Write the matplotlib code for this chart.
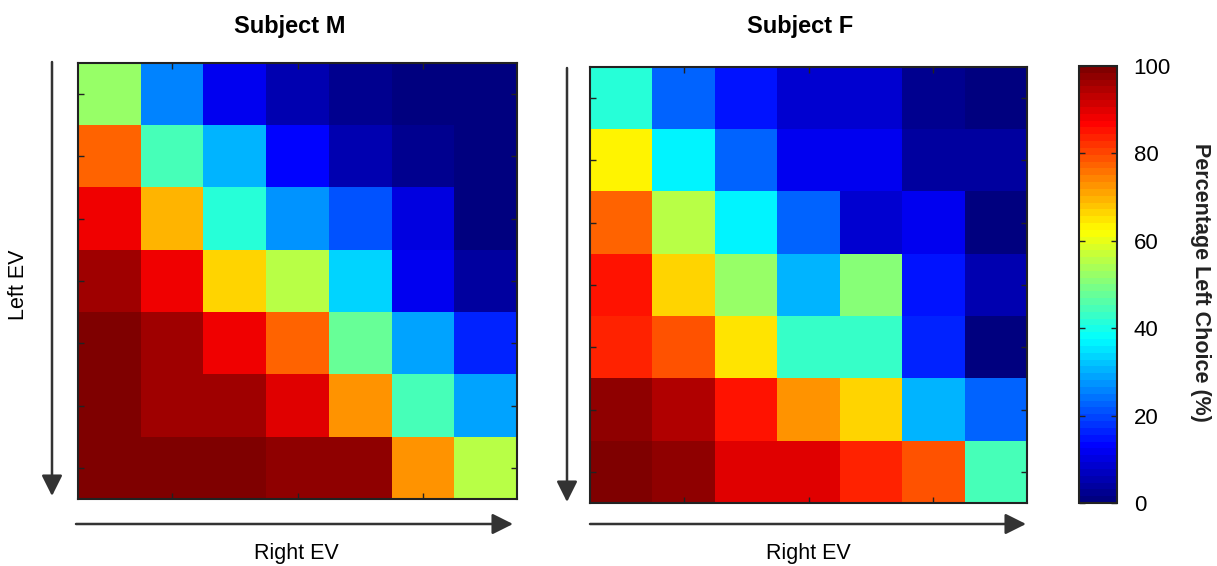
import matplotlib
matplotlib.use("Agg")
import matplotlib.pyplot as plt
from matplotlib.colors import LinearSegmentedColormap
import numpy as np

plt.rcParams['font.family'] = ['Liberation Sans', 'DejaVu Sans']

# percentage of left choices, rows = left EV (top to bottom), cols = right EV
subject_m = [
    [52, 26, 12, 5, 3, 1, 0],
    [77, 44, 31, 13, 6, 2, 1],
    [88, 70, 41, 28, 21, 10, 1],
    [96, 88, 67, 55, 33, 11, 4],
    [100, 96, 89, 78, 47, 29, 17],
    [100, 96, 96, 90, 73, 45, 29],
    [100, 100, 100, 98, 98, 73, 56],
]
subject_f = [
    [41, 22, 15, 9, 8, 3, 1],
    [63, 36, 23, 11, 11, 4, 4],
    [78, 56, 37, 23, 9, 12, 1],
    [85, 67, 53, 30, 50, 15, 6],
    [84, 79, 65, 43, 43, 16, 1],
    [98, 94, 85, 72, 67, 30, 22],
    [100, 98, 90, 90, 84, 79, 44],
]
titles = ["Subject M", "Subject F"]
cbar_ticks = [0, 20, 40, 60, 80, 100]

W, H = 1217, 566
fig = plt.figure(figsize=(W / 100, H / 100), dpi=100)

def fx(x):
    return x / W

def fy(y):
    return 1 - y / H

# MATLAB style jet, 64 colours
cmap = LinearSegmentedColormap.from_list(
    'mjet', [(0, (0, 0, 0.5)), (1 / 8, (0, 0, 1)), (3 / 8, (0, 1, 1)),
             (5 / 8, (1, 1, 0)), (7 / 8, (1, 0, 0)), (1, (0.5, 0, 0))], N=64)

# panel boxes in pixels: left, top, right, bottom
boxes = [(78, 63, 517, 499), (590, 67, 1027, 503)]
vert_arrows = [(52, 62, 496), (567, 68, 502)]
horiz_arrows = [(76, 513, 524), (590, 1026, 524)]
title_x = [290, 800]
xlabel_x = [296, 808]

for data, title, box, va, ha, tx, lx in zip([subject_m, subject_f], titles, boxes,
                                            vert_arrows, horiz_arrows, title_x, xlabel_x):
    l, t, r, b = box
    ax = fig.add_axes([fx(l), fy(b), fx(r - l), (b - t) / H])
    im = ax.imshow(np.array(data), cmap=cmap, vmin=0, vmax=100, aspect='auto',
                   interpolation='nearest')
    ax.set_xticks([1, 3, 5])
    ax.set_yticks(range(7))
    ax.tick_params(direction='in', length=4, width=1, top=True, right=True,
                   labelbottom=False, labelleft=False, color='#222222')
    for s in ax.spines.values():
        s.set_linewidth(1.5)
        s.set_color('#222222')

    fig.text(fx(tx), fy(26), title, ha='center', va='center',
             fontsize=17, fontweight='bold')

    x0, y0, y1 = va
    fig.add_artist(matplotlib.patches.FancyArrowPatch(
        (fx(x0), fy(y0)), (fx(x0), fy(y1)), transform=fig.transFigure,
        arrowstyle='-|>,head_length=0.9,head_width=0.45', mutation_scale=14,
        color='#333333', linewidth=1.8, shrinkA=0, shrinkB=0))
    xa, xb, yh = ha
    fig.add_artist(matplotlib.patches.FancyArrowPatch(
        (fx(xa), fy(yh)), (fx(xb), fy(yh)), transform=fig.transFigure,
        arrowstyle='-|>,head_length=0.9,head_width=0.45', mutation_scale=14,
        color='#333333', linewidth=1.8, shrinkA=0, shrinkB=0))
    fig.text(fx(lx), fy(553), "Right EV", ha='center', va='center', fontsize=15.5)

fig.text(fx(19), fy(285), "Left EV", ha='center', va='center', rotation=90,
         fontsize=15.5)

# colorbar
cax = fig.add_axes([fx(1079), fy(503), fx(38), (503 - 66) / H])
cb = fig.colorbar(im, cax=cax, ticks=cbar_ticks)
cb.outline.set_linewidth(1.5)
cb.outline.set_edgecolor('#222222')
cax.tick_params(direction='in', length=4, width=1, left=True, right=True,
                labelsize=16, pad=12, color='#222222')
fig.text(fx(1200), fy(282), "Percentage Left Choice (%)", ha='center', va='center',
         rotation=270, fontsize=15.5, fontweight='bold', color='#222222')

fig.savefig("out.png", dpi=100)
